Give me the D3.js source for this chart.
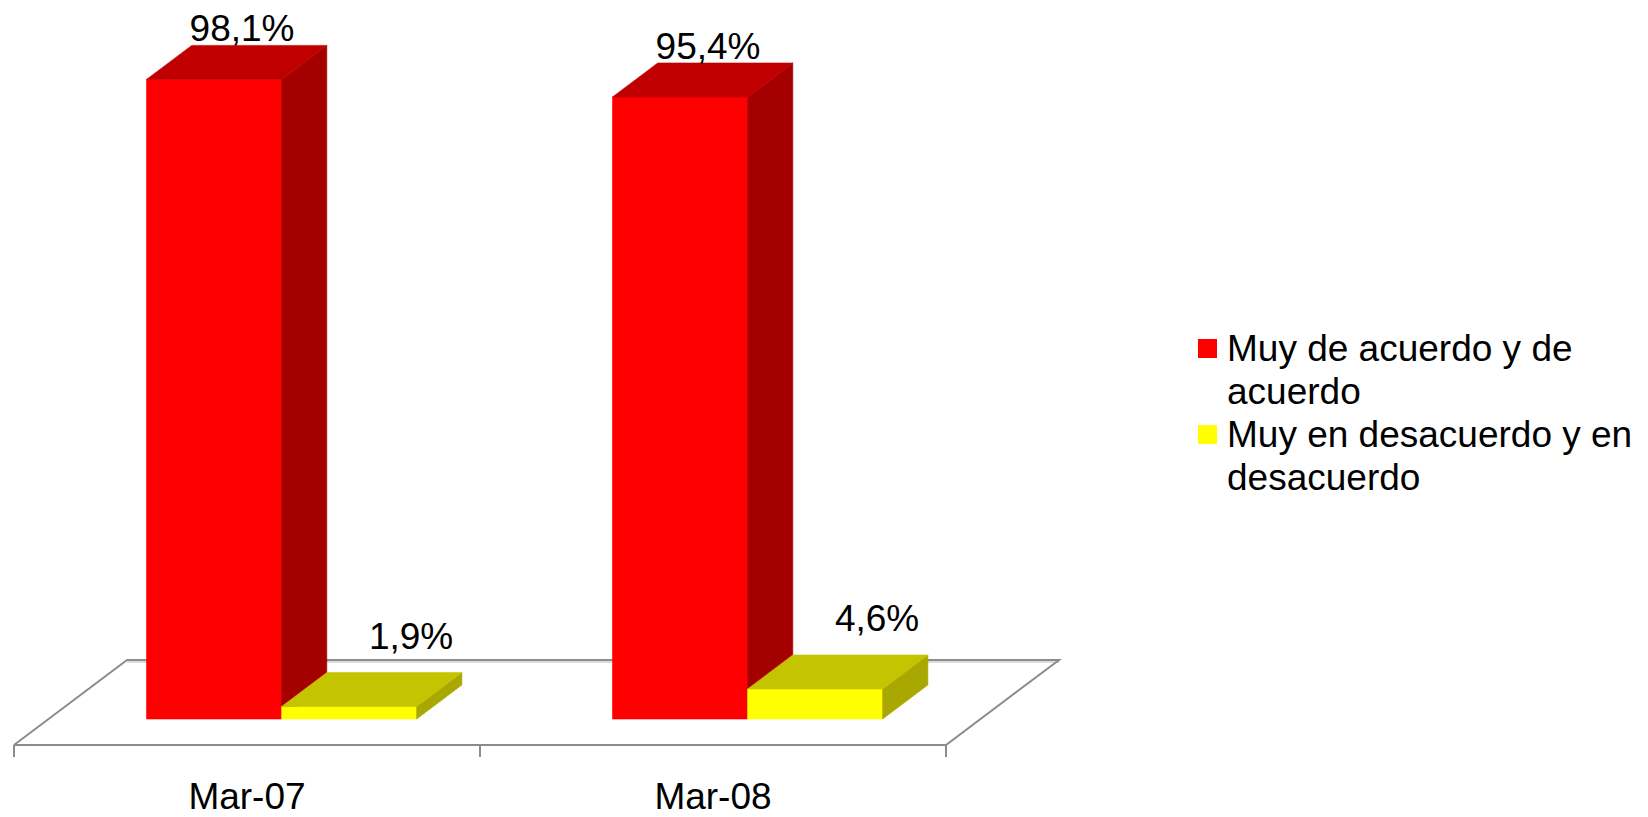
<!DOCTYPE html>
<html>
<head>
<meta charset="utf-8">
<script src="https://cdn.jsdelivr.net/npm/d3@7"></script>
<style>
  body { margin: 0; background: #fff; }
  svg { display: block; font-family: "Liberation Sans", Arial, sans-serif; }
</style>
</head>
<body>
<svg id="chart" width="1648" height="817"></svg>
<script>
const categories = ["Mar-07", "Mar-08"];
const seriesNames = ["Muy de acuerdo y de acuerdo", "Muy en desacuerdo y en desacuerdo"];
const agreeValues = [98.1, 95.4];
const disagreeValues = [1.9, 4.6];
const seriesValues = [agreeValues, disagreeValues];
const yDomain = [0, 100];

class Bar3dChart {
  constructor(svgId) {
    this.svg = d3.select(svgId);
    this.floorFront = 745;
    this.floorDepth = 85;
    this.slant = 1.33;      // horizontal shift per pixel of depth
    this.barZ0 = 26;
    this.barZ1 = 60;
    this.fontSize = 37;

    this.colors = [
      { front: "#ff0000", top: "#c00000", side: "#a50000" },
      { front: "#ffff00", top: "#c4c400", side: "#a8a800" }
    ];
    this.labelNudge = [{ dx: 28, dy: -4 }, { dx: 62, dy: -24 }];

    this.x0 = d3.scaleBand().domain(categories).range([14, 946]);
    this.x1 = d3.scaleBand()
      .domain(d3.range(seriesNames.length))
      .range([0, this.x0.bandwidth()])
      .paddingInner(0)
      .paddingOuter(0.725);
    this.y = d3.scaleLinear().domain(yDomain).range([this.floorFront, this.floorFront - 652]);

    let locale = d3.formatLocale({ decimal: ",", thousands: ".", grouping: [3], currency: ["", "€"] });
    this.fmt = locale.format(".1f");
  }

  project(px, v, z) {
    return [px + z * this.slant, this.y(v) - z];
  }

  drawFloor() {
    let svg = this.svg;
    let x0 = this.x0;
    let [xa, xb] = x0.range();
    let d = this.floorDepth;
    let g = svg.append("g").attr("class", "floor");

    let corners = [this.project(xa, 0, 0), this.project(xb, 0, 0), this.project(xb, 0, d), this.project(xa, 0, d)];
    g.append("polygon")
      .attr("points", corners.map(p => p.join(",")).join(" "))
      .attr("fill", "#fff");

    // soft shadow under the back edge
    g.append("line")
      .attr("x1", corners[3][0]).attr("y1", corners[3][1] + 2)
      .attr("x2", corners[2][0]).attr("y2", corners[2][1] + 2)
      .attr("stroke", "#dcdcdc").attr("stroke-width", 2);

    g.append("path")
      .attr("d", d3.line()([corners[0], corners[3], corners[2], corners[1], corners[0]]))
      .attr("fill", "none")
      .attr("stroke", "#8c8c8c")
      .attr("stroke-width", 2);

    let tickXs = categories.map(c => x0(c)).concat([xb]);
    g.selectAll(".tick")
      .data(tickXs)
      .enter().append("line")
      .attr("class", "tick")
      .attr("x1", d => d).attr("x2", d => d)
      .attr("y1", this.floorFront).attr("y2", this.floorFront + 12)
      .attr("stroke", "#8c8c8c")
      .attr("stroke-width", 2);

    svg.append("g").selectAll(".cat")
      .data(categories)
      .enter().append("text")
      .attr("class", "cat")
      .attr("x", d => x0(d) + x0.bandwidth() / 2)
      .attr("y", 809)
      .attr("text-anchor", "middle")
      .attr("font-size", this.fontSize)
      .attr("fill", "#000")
      .text(d => d);
  }

  drawBars() {
    let that = this;
    let x0 = this.x0, x1 = this.x1;
    let w = x1.bandwidth();
    let z0 = this.barZ0, z1 = this.barZ1;
    let bars = [];
    categories.forEach((c, ci) => {
      seriesValues.forEach((vals, si) => {
        bars.push({ cat: c, si: si, v: vals[ci], px: x0(c) + x1(si) });
      });
    });

    let g = this.svg.append("g").attr("class", "bars");
    let poly = pts => pts.map(p => p.join(",")).join(" ");

    let bar = g.selectAll(".bar")
      .data(bars)
      .enter().append("g")
      .attr("class", "bar");

    bar.append("polygon")
      .attr("points", d => poly([
        that.project(d.px, 0, z0), that.project(d.px + w, 0, z0),
        that.project(d.px + w, d.v, z0), that.project(d.px, d.v, z0)]))
      .attr("fill", d => that.colors[d.si].front)
      .attr("stroke", d => that.colors[d.si].front)
      .attr("stroke-width", 0.6);

    bar.append("polygon")
      .attr("points", d => poly([
        that.project(d.px + w, 0, z0), that.project(d.px + w, d.v, z0),
        that.project(d.px + w, d.v, z1), that.project(d.px + w, 0, z1)]))
      .attr("fill", d => that.colors[d.si].side)
      .attr("stroke", d => that.colors[d.si].side)
      .attr("stroke-width", 0.6);

    bar.append("polygon")
      .attr("points", d => poly([
        that.project(d.px, d.v, z0), that.project(d.px + w, d.v, z0),
        that.project(d.px + w, d.v, z1), that.project(d.px, d.v, z1)]))
      .attr("fill", d => that.colors[d.si].top)
      .attr("stroke", d => that.colors[d.si].top)
      .attr("stroke-width", 0.6);

    g.selectAll(".val")
      .data(bars)
      .enter().append("text")
      .attr("class", "val")
      .attr("x", d => d.px + w / 2 + z0 * that.slant + that.labelNudge[d.si].dx)
      .attr("y", d => that.y(d.v) - z1 + that.labelNudge[d.si].dy)
      .attr("text-anchor", "middle")
      .attr("font-size", that.fontSize)
      .attr("fill", "#000")
      .text(d => that.fmt(d.v) + "%");
  }

  drawLegend() {
    let that = this;
    let g = this.svg.append("g").attr("class", "legend");
    let lineH = 43;
    let maxW = 418;
    let yPos = 361;

    seriesNames.forEach((name, si) => {
      g.append("rect")
        .attr("x", 1198).attr("y", yPos - 22)
        .attr("width", 19).attr("height", 19)
        .attr("fill", that.colors[si].front);

      let text = g.append("text")
        .attr("x", 1227).attr("y", yPos)
        .attr("font-size", that.fontSize)
        .attr("fill", "#000");

      // wrap the name by measured width
      let words = name.split(" ");
      let line = [];
      let tspan = text.append("tspan").attr("x", 1227).attr("y", yPos);
      let lines = 1;
      words.forEach(word => {
        line.push(word);
        tspan.text(line.join(" "));
        if (tspan.node().getComputedTextLength() > maxW && line.length > 1) {
          line.pop();
          tspan.text(line.join(" "));
          line = [word];
          tspan = text.append("tspan")
            .attr("x", 1227)
            .attr("y", yPos + lines * lineH)
            .text(word);
          lines++;
        }
      });
      yPos += lines * lineH;
    });
  }
}

let chart = new Bar3dChart("#chart");
chart.drawFloor();
chart.drawBars();
chart.drawLegend();
</script>
</body>
</html>
